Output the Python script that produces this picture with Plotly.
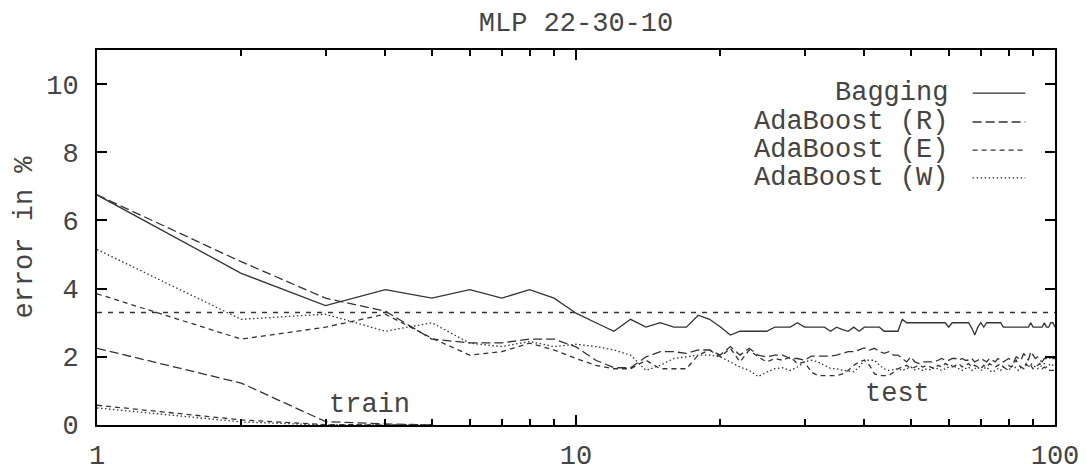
import plotly.graph_objects as go

x = list(range(1, 101))

bagging = [6.75, 4.45, 3.5, 3.97, 3.72, 3.97, 3.72, 3.97, 3.72, 3.28,
           3.0, 2.75, 3.1, 2.87, 3.0, 2.87, 2.87, 3.22, 3.1, 2.88,
           2.64, 2.75, 2.75, 2.75, 2.75, 2.87, 2.87, 2.87, 3.0, 2.87,
           2.87, 2.87, 2.87, 2.75, 2.87, 2.8, 2.75, 2.87, 2.75, 2.87,
           2.87, 2.87, 2.87, 2.75, 2.75, 2.75, 2.75, 3.1, 3.0, 3.0,
           3.0, 3.0, 3.0, 3.0, 3.0, 3.0, 3.0, 3.0, 3.0, 2.87,
           3.0, 3.0, 3.0, 3.0, 3.0, 3.0, 2.85, 2.64, 2.87, 3.0,
           2.87, 3.0, 3.0, 3.0, 3.0, 3.0, 3.0, 2.87, 2.87, 2.87,
           2.87, 2.87, 2.87, 2.87, 2.87, 2.87, 2.87, 2.87, 3.0, 2.87,
           2.87, 2.87, 2.87, 2.87, 3.0, 2.87, 2.87, 3.0, 3.0, 2.87]

ada_r = [6.75, 4.79, 3.72, 3.34, 2.52, 2.41, 2.41, 2.52, 2.52, 2.29,
         1.9, 1.68, 1.68, 2.0, 2.15, 2.15, 2.1, 2.2, 2.2, 2.05,
         2.3, 2.05, 2.25, 2.05, 2.0, 2.05, 2.05, 1.95, 1.95, 1.9,
         2.02, 2.02, 2.0, 2.02, 2.05, 2.1, 2.15, 2.15, 2.2, 2.26,
         2.2, 2.25, 2.15, 2.1, 2.15, 2.05, 2.05, 1.95, 1.85, 2.0,
         1.85, 1.8, 1.85, 1.85, 1.85, 1.85, 1.9, 1.95, 1.9, 1.9,
         1.95, 1.95, 1.9, 1.95, 1.9, 1.9, 1.95, 1.85, 1.9, 1.95,
         1.9, 1.85, 1.95, 1.9, 1.85, 1.95, 1.9, 1.85, 1.9, 1.95,
         1.9, 1.85, 2.0, 1.95, 1.9, 2.1, 2.0, 1.9, 2.15, 2.05,
         1.95, 2.0, 1.9, 1.85, 1.95, 1.95, 1.9, 2.0, 1.95, 1.95]

ada_e = [3.85, 2.52, 2.87, 3.25, 2.55, 2.05, 2.15, 2.4, 2.2, 1.95,
         1.75, 1.65, 1.65, 1.9, 1.65, 1.65, 1.65, 2.05, 2.2, 2.0,
         2.25, 1.85, 2.2, 2.0, 1.85, 1.95, 1.9, 2.0, 1.8, 1.85,
         1.55, 1.45, 1.45, 1.45, 1.45, 1.5, 1.6, 1.75, 1.85, 1.9,
         1.75, 1.5, 1.45, 1.45, 1.45, 1.55, 1.65, 1.7, 1.75, 1.65,
         1.7, 1.75, 1.7, 1.75, 1.7, 1.65, 1.75, 1.7, 1.8, 1.75,
         1.7, 1.75, 1.8, 1.7, 1.75, 1.8, 1.7, 1.75, 1.7, 1.65,
         1.75, 1.7, 1.8, 1.75, 1.7, 1.75, 1.8, 1.7, 1.65, 1.75,
         1.7, 1.8, 1.9, 1.75, 1.7, 1.65, 1.8, 1.7, 1.75, 1.65,
         1.7, 1.75, 1.8, 1.65, 1.7, 1.65, 1.6, 1.6, 1.6, 1.6]

ada_w = [5.15, 3.1, 3.25, 2.75, 3.0, 2.4, 2.3, 2.45, 2.3, 2.37,
         2.3, 2.2, 2.05, 1.6, 1.75, 1.95, 2.0, 2.05, 2.05, 2.0,
         1.85, 1.7, 1.6, 1.42, 1.55, 1.65, 1.68, 1.6, 1.7, 1.85,
         1.9, 1.85, 1.75, 1.66, 1.65, 1.6, 1.58, 1.56, 1.7, 1.9,
         1.9, 1.9, 1.75, 1.65, 1.6, 1.62, 1.65, 1.6, 1.65, 1.7,
         1.62, 1.65, 1.6, 1.65, 1.62, 1.68, 1.65, 1.6, 1.65, 1.7,
         1.75, 1.7, 1.65, 1.6, 1.65, 1.7, 1.6, 1.65, 1.7, 1.6,
         1.65, 1.7, 1.6, 1.55, 1.6, 1.65, 1.6, 1.7, 1.65, 1.6,
         1.7, 1.75, 1.65, 1.6, 1.7, 1.65, 1.75, 1.7, 1.8, 1.75,
         1.7, 1.65, 1.7, 1.75, 1.8, 1.7, 1.75, 1.8, 1.75, 1.75]

train_x = [1, 2, 3, 4, 5]
train_r = [2.25, 1.23, 0.1, 0.03, 0.0]
train_e = [0.58, 0.15, 0.01, 0.0, 0.0]
train_w = [0.5, 0.09, 0.0, 0.0, 0.0]

single_x = [1, 100]
single_y = [3.3, 3.3]

names = ["Bagging", "AdaBoost (R)", "AdaBoost (E)", "AdaBoost (W)"]
dashes = ["solid", "9px,4px", "5px,4px", "1.5px,2.5px"]

x_ticks = [1, 10, 100]
x_ticktext = ["1", "10", "100"]
y_ticks = [0, 2, 4, 6, 8, 10]

C = "#333333"
TC = "#444444"
FONT = "Liberation Mono, Courier New, monospace"
FS = 27
LW = 1.3

W, H = 1078, 462  # page body has an 8px margin

fig = go.Figure()
for ys, dash in zip([bagging, ada_r, ada_e, ada_w], dashes):
    fig.add_trace(go.Scatter(x=x, y=ys, mode="lines", showlegend=False,
                             line=dict(color=C, width=LW, dash=dash)))
for ys, dash in zip([train_r, train_e, train_w], dashes[1:]):
    fig.add_trace(go.Scatter(x=train_x, y=ys, mode="lines", showlegend=False,
                             line=dict(color=C, width=LW, dash=dash)))
fig.add_trace(go.Scatter(x=single_x, y=single_y, mode="lines", showlegend=False,
                         line=dict(color=C, width=LW, dash="5px,6px")))

# gnuplot-style key: text right-aligned, sample line to its right
key_y = [0.885, 0.808, 0.733, 0.659]
for name, dash, ky in zip(names, dashes, key_y):
    fig.add_annotation(x=0.890, y=ky, xref="paper", yref="paper", text=name,
                       showarrow=False, xanchor="right", yanchor="middle",
                       font=dict(family=FONT, size=FS, color=TC))
    fig.add_shape(type="line", xref="paper", yref="paper",
                  x0=0.914, x1=0.969, y0=ky, y1=ky,
                  line=dict(color=C, width=LW, dash=dash))

fig.add_annotation(x=0.568, y=0.59, xref="x", yref="y", text="train",
                   showarrow=False, font=dict(family=FONT, size=FS, color=TC))
fig.add_annotation(x=1.672, y=0.91, xref="x", yref="y", text="test",
                   showarrow=False, font=dict(family=FONT, size=FS, color=TC))

fig.update_layout(
    template="none",
    width=W, height=H,
    margin=dict(l=89, r=31, t=42, b=45, autoexpand=False),
    paper_bgcolor="white", plot_bgcolor="white",
    font=dict(family=FONT, size=FS, color=TC),
    title=dict(text="MLP 22-30-10", x=568/W, xanchor="center", y=1-14/H, yanchor="middle",
               font=dict(family=FONT, size=FS, color=TC)),
    showlegend=False,
)
fig.update_xaxes(type="log", range=[0, 2], tickvals=x_ticks, ticktext=x_ticktext,
                 automargin=False,
                 ticks="inside", ticklen=10, tickwidth=2, tickcolor="black",
                 showline=True, linecolor="black", linewidth=2, mirror="ticks",
                 showgrid=False, zeroline=False, ticklabelstandoff=5,
                 minor=dict(tickvals=[2, 3, 4, 5, 6, 7, 8, 9, 20, 30, 40, 50, 60, 70, 80, 90],
                            ticks="inside", ticklen=6, tickwidth=2, tickcolor="black",
                            showgrid=False),
                 tickfont=dict(family=FONT, size=FS, color=TC))
fig.update_yaxes(range=[0, 11], tickvals=y_ticks,
                 automargin=False,
                 ticks="inside", ticklen=10, tickwidth=2, tickcolor="black",
                 showline=True, linecolor="black", linewidth=2, mirror="ticks",
                 showgrid=False, zeroline=False, ticklabelstandoff=11,
                 title=dict(text="error in %", standoff=6,
                            font=dict(family=FONT, size=FS, color=TC)),
                 tickfont=dict(family=FONT, size=FS, color=TC))

fig.write_html("out.html")
